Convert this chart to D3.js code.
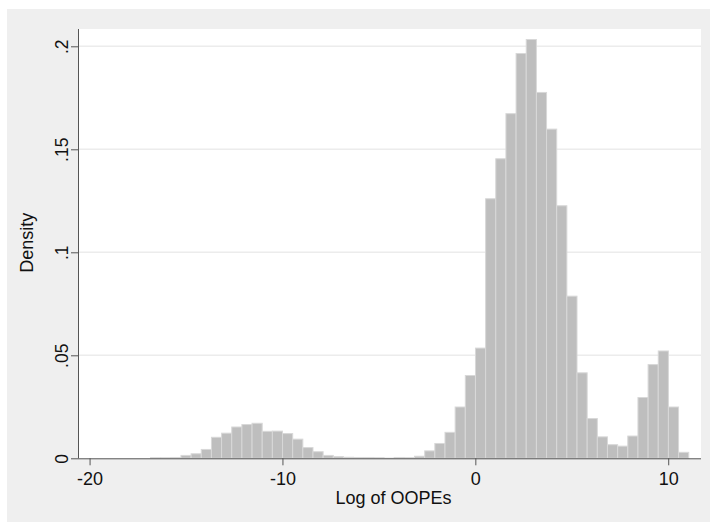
<!DOCTYPE html>
<html>
<head>
<meta charset="utf-8">
<script src="https://cdn.jsdelivr.net/npm/d3@7"></script>
<style>
  html, body { margin: 0; padding: 0; background: #fff; }
  svg text { font-family: "Liberation Sans", Arial, Helvetica, sans-serif; }
</style>
</head>
<body>
<svg id="chart" width="710" height="522"></svg>
<script>
// histogram bins
const binStart = -20;
const binWidth = 0.5265;
const densities = [
    0, 0, 0, 0, 0, 0, 0.0003, 0.0003, 0.0004, 0.0014,
    0.0022, 0.0043, 0.0102, 0.0122, 0.0152, 0.0164, 0.0170, 0.0131, 0.0132, 0.0120,
    0.0093, 0.0052, 0.0032, 0.0014, 0.0008, 0.0005, 0.0004, 0.0004, 0.0003, 0.0001,
    0.0004, 0.0003, 0.0010, 0.0036, 0.0072, 0.0126, 0.0249, 0.0402, 0.0535, 0.1260,
    0.1454, 0.1673, 0.1965, 0.2033, 0.1776, 0.1598, 0.1226, 0.0787, 0.0415, 0.0193,
    0.0104, 0.0066, 0.0059, 0.0108, 0.0295, 0.0455, 0.0521, 0.0249, 0.0029
];
const xTicks = [-20, -10, 0, 10];
const xTickLabels = ['-20', '-10', '0', '10'];
const yTicks = [0, 0.05, 0.1, 0.15, 0.2];
const yTickLabels = ['0', '.05', '.1', '.15', '.2'];
const xTitle = 'Log of OOPEs';
const yTitle = 'Density';

const svg = d3.select('svg#chart');

// layout
const plotLeft = 78,
    plotRight = 701,
    plotTop = 29,
    plotBottom = 458.3,
    axisColor = '#555',
    gridColor = '#ececec',
    barFill = '#bebebe',
    barStroke = '#d8d8d8';

const x = d3.scaleLinear().domain([-20.6, 11.7]).range([plotLeft, plotRight]);
const y = d3.scaleLinear().domain([0, 0.2084]).range([plotBottom, plotTop]);

// outer background
svg.append('rect')
    .attr('x', 7).attr('y', 9)
    .attr('width', 703).attr('height', 513)
    .attr('fill', '#efefef');

// plot region
svg.append('rect')
    .attr('x', plotLeft).attr('y', plotTop)
    .attr('width', plotRight - plotLeft).attr('height', plotBottom - plotTop)
    .attr('fill', '#fff');

// grid lines
svg.append('g')
    .selectAll('line')
    .data(yTicks.slice(1))
    .join('line')
    .attr('x1', plotLeft).attr('x2', plotRight)
    .attr('y1', d => y(d)).attr('y2', d => y(d))
    .attr('stroke', gridColor)
    .attr('stroke-width', 1.5);

// bars
svg.append('g')
    .selectAll('rect')
    .data(densities)
    .join('rect')
    .attr('x', (d, i) => x(binStart + i * binWidth))
    .attr('width', (d, i) => x(binStart + (i + 1) * binWidth) - x(binStart + i * binWidth))
    .attr('y', d => y(d))
    .attr('height', d => plotBottom - y(d))
    .attr('fill', barFill)
    .attr('stroke', barStroke)
    .attr('stroke-width', 1);

// y axis
const yAxis = svg.append('g')
    .attr('transform', `translate(${plotLeft},0)`)
    .call(d3.axisLeft(y)
        .tickValues(yTicks)
        .tickFormat((d, i) => yTickLabels[i])
        .tickSize(7)
        .tickSizeOuter(0));
yAxis.select('.domain').attr('stroke', axisColor).attr('d', `M0.5,${plotTop}V${plotBottom}`);
yAxis.selectAll('.tick line').attr('stroke', axisColor);
yAxis.selectAll('.tick text')
    .attr('x', 0).attr('dy', 0)
    .attr('transform', 'translate(-10,0) rotate(-90)')
    .attr('text-anchor', 'middle')
    .attr('fill', '#111')
    .style('font-size', '17.5px');

// x axis
const xAxis = svg.append('g')
    .attr('transform', `translate(0,${plotBottom})`)
    .call(d3.axisBottom(x)
        .tickValues(xTicks)
        .tickFormat((d, i) => xTickLabels[i])
        .tickSize(7)
        .tickSizeOuter(0));
xAxis.select('.domain').attr('stroke', axisColor).attr('d', `M${plotLeft},0.5H${plotRight}`);
xAxis.selectAll('.tick line').attr('stroke', axisColor);
xAxis.selectAll('.tick text')
    .attr('y', 27).attr('dy', 0)
    .attr('fill', '#111')
    .style('font-size', '18px');

// axis titles
svg.append('text')
    .text(xTitle)
    .attr('x', (plotLeft + plotRight) / 2 + 4)
    .attr('y', 504)
    .attr('text-anchor', 'middle')
    .attr('fill', '#111')
    .style('font-size', '18px');

svg.append('text')
    .text(yTitle)
    .attr('transform', `translate(33,${(plotTop + plotBottom) / 2 - 1}) rotate(-90)`)
    .attr('text-anchor', 'middle')
    .attr('fill', '#111')
    .style('font-size', '18px');
</script>
</body>
</html>
